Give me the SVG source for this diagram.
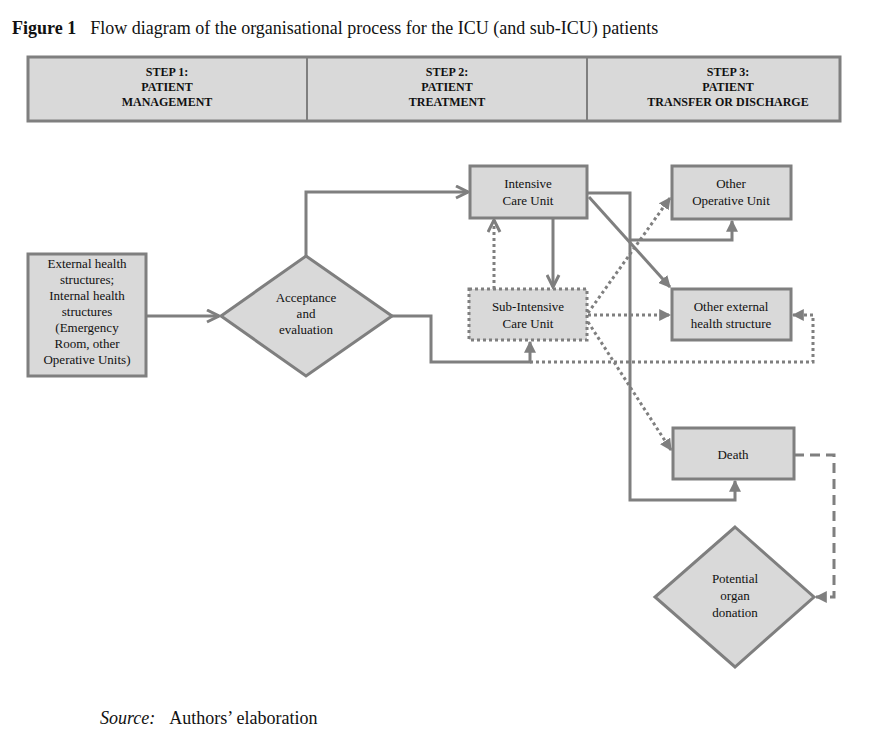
<svg xmlns="http://www.w3.org/2000/svg" width="888" height="732" viewBox="0 0 888 732">
<style>
text{font-family:"Liberation Serif",serif;fill:#111}
.t{font-size:13px;text-anchor:middle}
.h{font-size:12px;font-weight:bold;text-anchor:middle}
.n{fill:#d9d9d9;stroke:#7f7f7f;stroke-width:3}
.c{fill:none;stroke:#7f7f7f;stroke-width:3}
.d{stroke-dasharray:3 3}
.dash{stroke-dasharray:10 6}
</style>
<defs>
<marker id="a" viewBox="0 0 10 10" refX="9" refY="5" markerWidth="4" markerHeight="4" orient="auto"><path d="M0,0L10,5L0,10z" fill="#7f7f7f"/></marker>
<marker id="o" viewBox="0 0 10 10" refX="9" refY="5" markerWidth="5" markerHeight="5" orient="auto"><path d="M1,1L9,5L1,9" fill="none" stroke="#7f7f7f" stroke-width="2"/></marker>
</defs>
<rect width="888" height="732" fill="#fff"/>
<text x="12" y="34" font-size="18"><tspan font-weight="bold">Figure 1</tspan><tspan dx="14">Flow diagram of the organisational process for the ICU (and sub-ICU) patients</tspan></text>
<g id="header">
<rect class="n" x="28" y="57" width="812" height="64"/>
<line x1="307" y1="57" x2="307" y2="121" stroke="#7f7f7f" stroke-width="2"/>
<line x1="587" y1="57" x2="587" y2="121" stroke="#7f7f7f" stroke-width="2"/>
<text class="h" x="167" y="76">STEP 1:<tspan x="167" dy="15">PATIENT</tspan><tspan x="167" dy="15">MANAGEMENT</tspan></text>
<text class="h" x="447" y="76">STEP 2:<tspan x="447" dy="15">PATIENT</tspan><tspan x="447" dy="15">TREATMENT</tspan></text>
<text class="h" x="728" y="76">STEP 3:<tspan x="728" dy="15">PATIENT</tspan><tspan x="728" dy="15">TRANSFER OR DISCHARGE</tspan></text>
</g>
<g id="connectors">
<path class="c" d="M146,316H219" marker-end="url(#o)"/>
<path class="c" d="M306,256V192H468" marker-end="url(#o)"/>
<path class="c" d="M392,316H431V362H530V342" marker-end="url(#a)"/>
<path class="c d" d="M530,362H813V315H793" marker-end="url(#a)"/>
<path class="c" d="M553,218V287" marker-end="url(#o)"/>
<path class="c d" d="M494,289V220" marker-end="url(#o)"/>
<path class="c" d="M587,193H630V500H735V481" marker-end="url(#a)"/>
<path class="c" d="M589,197L670,287" marker-end="url(#a)"/>
<path class="c" d="M630,240H732V221" marker-end="url(#a)"/>
<path class="c d" d="M588,313L670,198" marker-end="url(#a)"/>
<path class="c d" d="M588,315H670" marker-end="url(#a)"/>
<path class="c d" d="M588,322L671,450" marker-end="url(#a)"/>
<path class="c dash" d="M794,455H834V597H816" marker-end="url(#a)"/>
</g>
<g id="external"><rect class="n" x="28" y="254" width="118" height="122"/>
<text class="t" x="87" y="268" font-size="12">External health<tspan x="87" dy="16">structures;</tspan><tspan x="87" dy="16">Internal health</tspan><tspan x="87" dy="16">structures</tspan><tspan x="87" dy="16">(Emergency</tspan><tspan x="87" dy="16">Room, other</tspan><tspan x="87" dy="16">Operative Units)</tspan></text></g>
<g id="acceptance"><polygon class="n" points="306,256 392,316 306,376 221,316"/>
<text class="t" x="306" y="302">Acceptance<tspan x="306" dy="16">and</tspan><tspan x="306" dy="16">evaluation</tspan></text></g>
<g id="icu"><rect class="n" x="470" y="166" width="117" height="52"/>
<text class="t" x="528" y="188">Intensive<tspan x="528" dy="17">Care Unit</tspan></text></g>
<g id="subicu"><rect class="n d" x="469" y="289" width="118" height="51"/>
<text class="t" x="528" y="311">Sub-Intensive<tspan x="528" dy="17">Care Unit</tspan></text></g>
<g id="otherop"><rect class="n" x="672" y="166" width="119" height="53"/>
<text class="t" x="731" y="188">Other<tspan x="731" dy="17">Operative Unit</tspan></text></g>
<g id="otherext"><rect class="n" x="672" y="289" width="119" height="51"/>
<text class="t" x="731" y="311">Other external<tspan x="731" dy="17">health structure</tspan></text></g>
<g id="death"><rect class="n" x="673" y="428" width="121" height="51"/>
<text class="t" x="733" y="459">Death</text></g>
<g id="donation"><polygon class="n" points="735,527 814,597 735,667 655,597"/>
<text class="t" x="735" y="583">Potential<tspan x="735" dy="17">organ</tspan><tspan x="735" dy="17">donation</tspan></text></g>
<text x="100" y="724" font-size="18"><tspan font-style="italic">Source:</tspan><tspan dx="14">Authors’ elaboration</tspan></text>
</svg>
